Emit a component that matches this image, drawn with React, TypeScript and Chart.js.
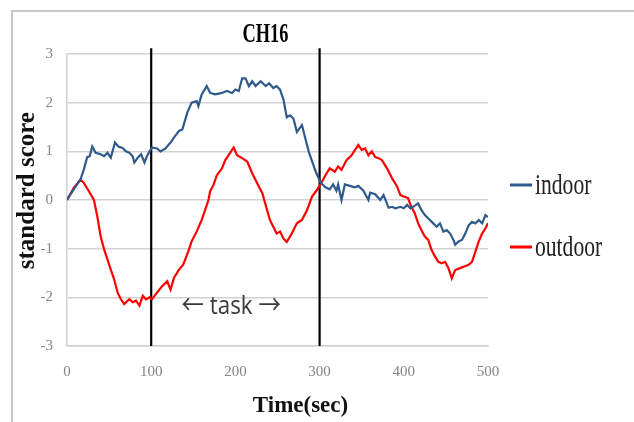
import React, { useEffect, useRef } from 'react';
import { Chart, registerables } from 'chart.js';

Chart.register(...registerables);

// ---------- data ----------
const chartTitle = 'CH16';
const seriesNames = ['indoor', 'outdoor'];
const xAxisTitle = 'Time(sec)';
const yAxisTitle = 'standard score';
const taskLabel = '← task →';
const taskLabelAt = [195, -2.2]; // [time, score]
const taskMarkers = [100, 300];
const xRange = [0, 500];
const xStep = 100;
const yRange = [-3, 3];
const yStep = 1;

const indoorTime = [
  0, 8, 16, 20, 24, 27, 30, 34, 40, 44,
  48, 52, 57, 61, 66, 70, 74, 78, 80, 84,
  88, 92, 95, 98, 101, 107, 111, 117, 123, 127,
  133, 137, 143, 148, 154, 156, 160, 166, 170, 176,
  184, 190, 196, 200, 204, 208, 212, 216, 220, 224,
  230, 236, 240, 245, 249, 253, 257, 261, 265, 269,
  273, 279, 283, 287, 291, 295, 301, 307, 312, 316,
  320, 322, 326, 330, 336, 342, 346, 352, 358, 360,
  366, 372, 376, 382, 386, 390, 396, 400, 404, 408,
  411, 417, 421, 425, 431, 435, 439, 443, 447, 451,
  455, 459, 461, 465, 469, 473, 477, 481, 485, 489,
  493, 497, 500,
];
const indoorScore = [
  0, 0.22, 0.42, 0.63, 0.88, 0.9, 1.1, 0.97, 0.94, 0.9,
  0.97, 0.87, 1.18, 1.1, 1.07, 1.0, 0.97, 0.9, 0.77, 0.87,
  0.94, 0.77, 0.9, 1.0, 1.08, 1.06, 1.0, 1.06, 1.18, 1.28,
  1.42, 1.45, 1.8, 2.0, 2.03, 1.93, 2.17, 2.34, 2.2, 2.17,
  2.2, 2.24, 2.2, 2.27, 2.24, 2.5, 2.5, 2.34, 2.44, 2.34,
  2.44, 2.34, 2.4, 2.3, 2.34, 2.27, 2.07, 1.7, 1.74, 1.67,
  1.4, 1.54, 1.27, 1.0, 0.8, 0.6, 0.36, 0.26, 0.22, 0.32,
  0.19, 0.32, 0.0, 0.32, 0.29, 0.26, 0.29, 0.19, 0.0, 0.15,
  0.12, 0.0, 0.1, -0.16, -0.14, -0.17, -0.14, -0.17, -0.1, -0.17,
  -0.14, -0.07, -0.21, -0.31, -0.41, -0.48, -0.55, -0.48, -0.65, -0.62,
  -0.69, -0.82, -0.92, -0.85, -0.82, -0.69, -0.52, -0.45, -0.48, -0.41,
  -0.48, -0.31, -0.35,
];

const outdoorTime = [
  0, 8, 16, 20, 26, 32, 36, 40, 44, 48,
  52, 56, 60, 64, 68, 74, 78, 82, 86, 90,
  94, 98, 101, 107, 113, 119, 123, 127, 133, 138,
  144, 148, 154, 160, 164, 168, 170, 174, 178, 184,
  188, 192, 196, 198, 202, 208, 214, 220, 226, 232,
  237, 241, 245, 249, 253, 257, 261, 267, 273, 279,
  285, 291, 297, 301, 307, 312, 318, 322, 326, 332,
  338, 342, 346, 350, 354, 358, 362, 366, 370, 374,
  380, 386, 392, 396, 400, 405, 409, 413, 417, 421,
  425, 429, 433, 437, 441, 445, 449, 453, 457, 461,
  467, 471, 477, 481, 485, 489, 493, 497, 500,
];
const outdoorScore = [
  0, 0.25, 0.42, 0.35, 0.18, 0.0, -0.34, -0.75, -1.01, -1.22,
  -1.43, -1.63, -1.9, -2.04, -2.14, -2.04, -2.1, -2.07, -2.17, -1.97,
  -2.04, -2.0, -2.04, -1.9, -1.77, -1.67, -1.84, -1.6, -1.43, -1.33,
  -1.06, -0.85, -0.65, -0.41, -0.21, 0.0, 0.18, 0.31, 0.51, 0.65,
  0.82, 0.92, 1.03, 1.08, 0.92, 0.86, 0.79, 0.55, 0.34, 0.14,
  -0.17, -0.41, -0.55, -0.69, -0.65, -0.79, -0.86, -0.69, -0.48, -0.41,
  -0.21, 0.07, 0.21, 0.32, 0.51, 0.65, 0.58, 0.69, 0.62, 0.82,
  0.92, 1.03, 1.13, 1.03, 1.06, 0.92, 1.0, 0.88, 0.86, 0.82,
  0.65, 0.45, 0.28, 0.1, 0.07, 0.04, -0.14, -0.27, -0.48, -0.62,
  -0.75, -0.82, -1.03, -1.16, -1.27, -1.3, -1.27, -1.4, -1.61, -1.44,
  -1.4, -1.37, -1.33, -1.27, -1.06, -0.85, -0.69, -0.58, -0.48,
];

// ---------- styles ----------
const SERIF = '"Liberation Serif", "Times New Roman", serif';
const SANS = '"Open Sans", "Noto Sans CJK JP", sans-serif';
const COLORS = ['#2e5a8c', '#ff0000'];
const GRID = '#d2d2d2';
const TICK = '#858585';

const zip = (xs: number[], ys: number[]) => xs.map((x, i) => ({ x, y: ys[i] }));

const overlay = {
  id: 'overlay',
  beforeDraw(chart: any) {
    const ctx = chart.ctx;
    ctx.save();
    ctx.strokeStyle = '#c8c8c8';
    ctx.lineWidth = 2;
    ctx.beginPath();
    ctx.moveTo(12, chart.height);
    ctx.lineTo(12, 11);
    ctx.lineTo(chart.width, 11);
    ctx.stroke();
    ctx.restore();
  },
  afterDraw(chart: any) {
    const { ctx, chartArea, scales } = chart;
    const text = (s: string, x: number, y: number, font: string, color: string, align: string, sx: number) => {
      ctx.save();
      ctx.translate(x, y);
      ctx.scale(sx, 1);
      ctx.font = font;
      ctx.fillStyle = color;
      ctx.textAlign = align;
      ctx.textBaseline = 'middle';
      ctx.fillText(s, 0, 0);
      ctx.restore();
    };
    // title
    text(chartTitle, (chartArea.left + chartArea.right) / 2 - 12, 35, `bold 27px ${SERIF}`, '#000', 'center', 0.68);
    // legend
    const lx = chartArea.right + 22;
    seriesNames.forEach((name, i) => {
      const y = 185 + i * 62;
      ctx.save();
      ctx.strokeStyle = COLORS[i];
      ctx.lineWidth = 3;
      ctx.beginPath();
      ctx.moveTo(lx, y);
      ctx.lineTo(lx + 22, y);
      ctx.stroke();
      ctx.restore();
      text(name, lx + 25, y + 1, `30px ${SERIF}`, '#222', 'left', 0.72);
    });
    // task annotation
    text(
      taskLabel,
      scales.x.getPixelForValue(taskLabelAt[0]),
      scales.y.getPixelForValue(taskLabelAt[1]),
      `26px ${SANS}`,
      '#3a3a3a',
      'center',
      0.86
    );
  },
};

export default function App() {
  const ref = useRef<HTMLCanvasElement>(null);

  useEffect(() => {
    const markerSets = taskMarkers.map((t) => ({
      label: 'marker' + t,
      data: [
        { x: t, y: yRange[1] + 0.12 },
        { x: t, y: yRange[0] },
      ],
      borderColor: '#000',
      borderWidth: 2.2,
      pointRadius: 0,
      clip: false as any,
    }));
    const chart = new Chart(ref.current as HTMLCanvasElement, {
      type: 'line',
      data: {
        datasets: [
          {
            label: seriesNames[0],
            data: zip(indoorTime, indoorScore),
            borderColor: COLORS[0],
            borderWidth: 2.2,
            pointRadius: 0,
            tension: 0,
          },
          {
            label: seriesNames[1],
            data: zip(outdoorTime, outdoorScore),
            borderColor: COLORS[1],
            borderWidth: 2.2,
            pointRadius: 0,
            tension: 0,
          },
          ...markerSets,
        ],
      },
      options: {
        animation: false,
        responsive: false,
        events: [],
        layout: { padding: { left: 12, top: 54, right: 146, bottom: 0 } },
        plugins: {
          legend: { display: false },
          title: { display: false },
          tooltip: { enabled: false },
        },
        scales: {
          x: {
            type: 'linear',
            min: xRange[0],
            max: xRange[1],
            ticks: {
              stepSize: xStep,
              color: TICK,
              font: { family: SERIF, size: 15 },
              padding: 17,
              maxRotation: 0,
            },
            grid: { display: false, drawTicks: false },
            border: { display: true, color: GRID, width: 1.5 },
            title: {
              display: true,
              text: '        ' + xAxisTitle,
              color: '#111',
              font: { family: SERIF, size: 23, weight: 'bold' },
              padding: { top: 0, bottom: 2 },
            },
            afterFit: (s: any) => {
              s.height = 76;
            },
          },
          y: {
            min: yRange[0],
            max: yRange[1],
            ticks: {
              stepSize: yStep,
              color: TICK,
              font: { family: SERIF, size: 15 },
              padding: 14,
            },
            grid: { color: GRID, lineWidth: 1.5, drawTicks: false },
            border: { display: true, color: GRID, width: 1.5 },
            title: {
              display: true,
              text: '   ' + yAxisTitle,
              color: '#111',
              font: { family: SERIF, size: 25, weight: 'bold' },
              padding: { top: 1, bottom: 0 },
            },
            afterFit: (s: any) => {
              s.width = 55;
            },
          },
        },
      } as any,
      plugins: [overlay],
    });
    return () => chart.destroy();
  }, []);

  return (
    <div
      style={{
        position: 'fixed',
        left: 0,
        top: 0,
        width: 634,
        height: 422,
        background: '#fff',
        overflow: 'hidden',
      }}
    >
      <canvas ref={ref} width={634} height={422} style={{ display: 'block', width: 634, height: 422 }} />
    </div>
  );
}
